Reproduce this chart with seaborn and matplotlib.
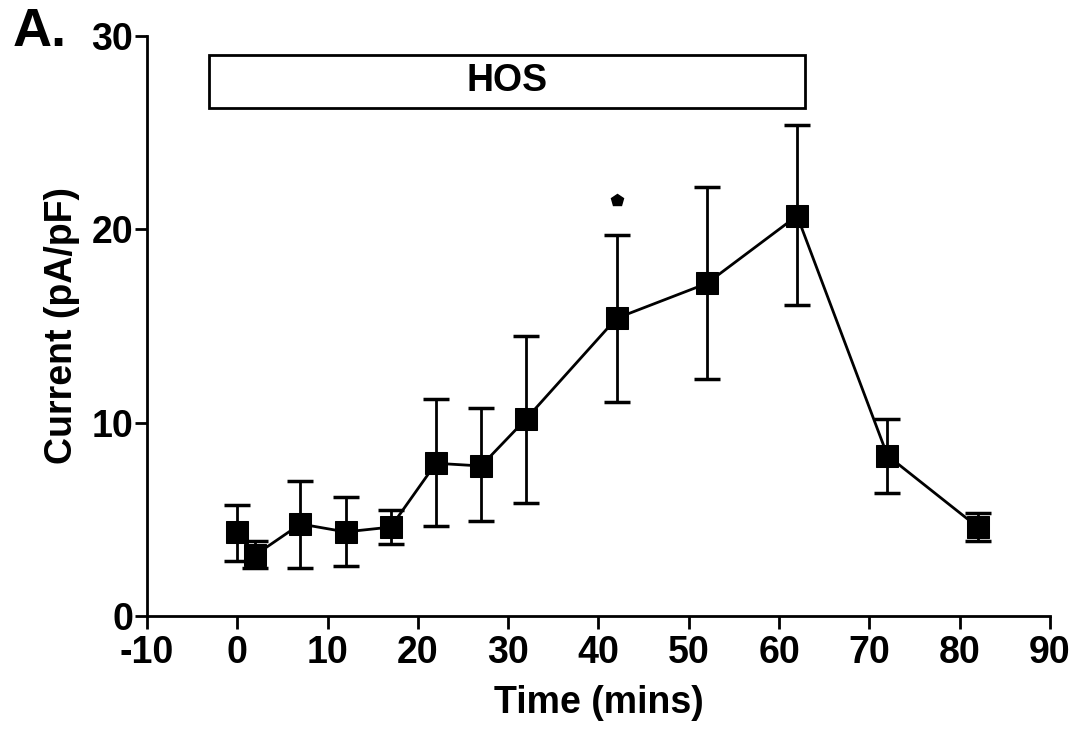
import matplotlib
matplotlib.use("Agg")
import matplotlib.pyplot as plt
import seaborn as sns
import numpy as np
import pandas as pd
from matplotlib.patches import Rectangle

time_min = [0, 2, 7, 12, 17, 22, 27, 32, 42, 52, 62, 72, 82]
current = [4.35, 3.16, 4.76, 4.35, 4.6, 7.9, 7.76, 10.2, 15.4, 17.2, 20.7, 8.3, 4.6]
err_upper = [5.74, 3.9, 7.0, 6.15, 5.5, 11.2, 10.76, 14.5, 19.7, 22.2, 25.4, 10.2, 5.33]
err_lower = [2.85, 2.5, 2.5, 2.6, 3.7, 4.65, 4.9, 5.85, 11.07, 12.26, 16.1, 6.36, 3.9]
xticks = [-10, 0, 10, 20, 30, 40, 50, 60, 70, 80, 90]
yticks = [0, 10, 20, 30]
hos_start, hos_end = -3.1, 62.9
hos_bottom, hos_top = 26.3, 29.0
star_x, star_y = 42, 21.5

sns.set_theme(style="ticks")
plt.rcParams['font.family'] = ['Liberation Sans', 'DejaVu Sans']
plt.rcParams['font.weight'] = 'bold'
plt.rcParams['axes.unicode_minus'] = False
for k in ['text.color', 'axes.labelcolor', 'xtick.color', 'ytick.color', 'axes.edgecolor']:
    plt.rcParams[k] = 'black'

fig = plt.figure(figsize=(10.83, 7.31), dpi=100)
ax = fig.add_axes([0.1357, 0.1573, 0.9695 - 0.1357, 0.9508 - 0.1573])

df = pd.DataFrame({"t": time_min, "c": current})
cur = np.array(current)
yerr = np.vstack([cur - np.array(err_lower), np.array(err_upper) - cur])
ax.errorbar(time_min, current, yerr=yerr, fmt='none', ecolor='black',
            elinewidth=2, capsize=9.5, capthick=2.5, zorder=2)
sns.lineplot(data=df, x="t", y="c", ax=ax, color='black', linewidth=2,
             marker='s', markersize=15.5, markeredgecolor='black',
             markerfacecolor='black', zorder=3)

ax.add_patch(Rectangle((hos_start, hos_bottom), hos_end - hos_start,
                       hos_top - hos_bottom, facecolor='white',
                       edgecolor='black', linewidth=2, zorder=4))
ax.text((hos_start + hos_end) / 2, (hos_bottom + hos_top) / 2, "HOS",
        ha='center', va='center', fontsize=27, fontweight='bold', zorder=5)
ax.plot([star_x], [star_y], marker='p', color='black', markersize=9,
        linestyle='none')

ax.set_xlim(-10, 90)
ax.set_ylim(0, 30)
ax.set_xticks(xticks)
ax.set_yticks(yticks)
ax.tick_params(axis='both', labelsize=27, width=2, length=9, direction='out')
ax.tick_params(axis='x', pad=5)
ax.tick_params(axis='y', pad=1)
for lab in ax.get_xticklabels() + ax.get_yticklabels():
    lab.set_fontweight('bold')
ax.set_xlabel("Time (mins)", fontsize=27, fontweight='bold', labelpad=10)
ax.set_ylabel("Current (pA/pF)", fontsize=27, fontweight='bold', labelpad=8)
for s in ['top', 'right']:
    ax.spines[s].set_visible(False)
for s in ['left', 'bottom']:
    ax.spines[s].set_linewidth(2)
    ax.spines[s].set_color('black')

fig.text(0.012, 0.99, "A.", fontsize=39, fontweight='bold', va='top', ha='left')

fig.savefig("out.png", dpi=100, facecolor='white')
